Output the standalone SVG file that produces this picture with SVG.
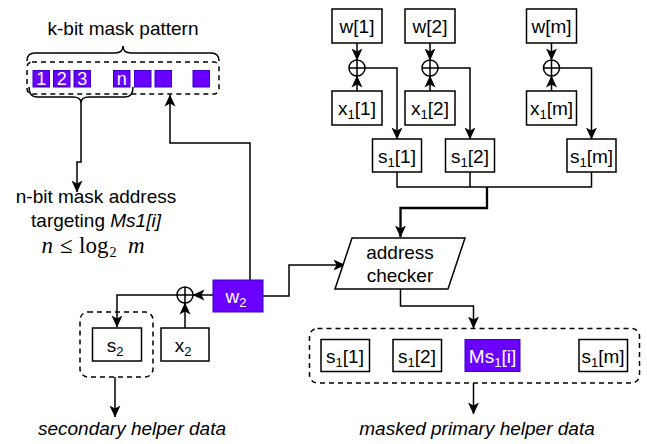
<svg xmlns="http://www.w3.org/2000/svg" width="647" height="444" viewBox="0 0 647 444">
<defs>
<marker id="arr" markerUnits="userSpaceOnUse" markerWidth="12" markerHeight="12" viewBox="0 0 12 12" refX="11.5" refY="6" orient="auto">
<path d="M0,0.5 L12,6 L0,11.5 L3,6 Z" fill="#000"/>
</marker>
</defs>
<style>
.box{fill:#fff;stroke:#000;stroke-width:1.5}
.pbox{fill:#6a00ff;stroke:#3700cc;stroke-width:1}
.t{font-family:"Liberation Sans",Arial,sans-serif;font-size:19px;fill:#000;text-anchor:middle}
.wt{fill:#fff}
.it{font-style:italic}
.sub{font-size:13px}
.ln{fill:none;stroke:#000;stroke-width:1.5}
.thick{fill:none;stroke:#000;stroke-width:2.3}
.dash{fill:none;stroke:#000;stroke-width:1.5;stroke-dasharray:5 4}
.xor{fill:#fff;stroke:#000;stroke-width:1.5}
.m{font-family:"Liberation Serif","Times New Roman",serif;font-size:23px;fill:#000}
</style>

<g id="connectors">
  <path class="ln" d="M357,43 V60" marker-end="url(#arr)"/>
  <path class="ln" d="M357,91 V76" marker-end="url(#arr)"/>
  <path class="ln" d="M365,68 H397 V139" marker-end="url(#arr)"/>
  <path class="ln" d="M430,43 V60" marker-end="url(#arr)"/>
  <path class="ln" d="M430,91 V76" marker-end="url(#arr)"/>
  <path class="ln" d="M438,68 H470 V139" marker-end="url(#arr)"/>
  <path class="ln" d="M551.5,43 V60" marker-end="url(#arr)"/>
  <path class="ln" d="M551.5,91 V76" marker-end="url(#arr)"/>
  <path class="ln" d="M559.5,68 H591.5 V139" marker-end="url(#arr)"/>
  <path class="ln" d="M397,172 V187 H591.5 V172 M470,172 V187"/>
  <path class="thick" d="M487,187 V208 H400.5 V237" marker-end="url(#arr)"/>
  <path class="ln" d="M400.5,289 V306 H473.5 V328" marker-end="url(#arr)"/>
  <path class="ln" d="M473.5,383 V414" marker-end="url(#arr)"/>
  <path class="ln" d="M263,296 H289 V265 H345" marker-end="url(#arr)"/>
  <path class="ln" d="M213,295 H193" marker-end="url(#arr)"/>
  <path class="ln" d="M185,328 V303" marker-end="url(#arr)"/>
  <path class="ln" d="M177,295 H117 V327" marker-end="url(#arr)"/>
  <path class="ln" d="M115,377 V417" marker-end="url(#arr)"/>
  <path class="ln" d="M250,280 V143 H170 V95" marker-end="url(#arr)"/>
  <path class="ln" d="M27,61 Q27,53 35,53 L115,53 Q123,53 123,46 Q123,53 131,53 L211,53 Q219,53 219,61"/>
  <path class="ln" d="M29,87 Q29,97 37,97 L73,97 Q81,97 81,103 Q81,97 89,97 L125,97 Q133,97 133,87"/>
  <path class="ln" d="M81,103 V162 H77 V192" marker-end="url(#arr)"/>
</g>

<g id="mask-pattern">
  <text class="t" x="123" y="35">k-bit mask pattern</text>
  <rect class="dash" x="27" y="62" width="192" height="32" rx="5"/>
  <rect class="pbox" x="33" y="70.5" width="16.5" height="16.5"/>
  <rect class="pbox" x="53.5" y="70.5" width="16.5" height="16.5"/>
  <rect class="pbox" x="74" y="70.5" width="16.5" height="16.5"/>
  <rect class="pbox" x="113.5" y="70.5" width="16.5" height="16.5"/>
  <rect class="pbox" x="134.5" y="70.5" width="16.5" height="16.5"/>
  <rect class="pbox" x="155" y="70.5" width="16.5" height="16.5"/>
  <rect class="pbox" x="193" y="70.5" width="16.5" height="16.5"/>
  <text class="t wt" x="41.2" y="85" style="font-size:18px">1</text>
  <text class="t wt" x="61.7" y="85" style="font-size:18px">2</text>
  <text class="t wt" x="82.2" y="85" style="font-size:18px">3</text>
  <text class="t wt" x="121.7" y="85" style="font-size:18px">n</text>
</g>

<g id="mask-address">
  <text class="t" x="96" y="203">n-bit mask address</text>
  <text class="t" x="96" y="227">targeting <tspan class="it">Ms1[i]</tspan></text>
  <text class="m" x="41.5" y="253" font-style="italic">n</text>
  <text class="m" x="60" y="253">≤</text>
  <text class="m" x="79" y="253">log</text>
  <text class="m" x="109.5" y="257" style="font-size:14px">2</text>
  <text class="m" x="128" y="253" font-style="italic">m</text>
</g>

<g id="w1"><rect class="box" x="332" y="9" width="50" height="34"/><text class="t" x="357" y="33">w[1]</text></g>
<g id="w2top"><rect class="box" x="405" y="9" width="50" height="34"/><text class="t" x="430" y="33">w[2]</text></g>
<g id="wm"><rect class="box" x="526.5" y="9" width="50" height="34"/><text class="t" x="551.5" y="33">w[m]</text></g>

<g id="xor1"><circle class="xor" cx="357" cy="68" r="8"/><path class="ln" d="M349,68 H365 M357,60 V76"/></g>
<g id="xor2"><circle class="xor" cx="430" cy="68" r="8"/><path class="ln" d="M422,68 H438 M430,60 V76"/></g>
<g id="xorm"><circle class="xor" cx="551.5" cy="68" r="8"/><path class="ln" d="M543.5,68 H559.5 M551.5,60 V76"/></g>

<g id="x1-1"><rect class="box" x="332" y="91" width="50" height="34"/><text class="t" x="357" y="115">x<tspan class="sub" dy="4">1</tspan><tspan dy="-4">[1]</tspan></text></g>
<g id="x1-2"><rect class="box" x="405" y="91" width="50" height="34"/><text class="t" x="430" y="115">x<tspan class="sub" dy="4">1</tspan><tspan dy="-4">[2]</tspan></text></g>
<g id="x1-m"><rect class="box" x="526.5" y="91" width="50" height="34"/><text class="t" x="551.5" y="115">x<tspan class="sub" dy="4">1</tspan><tspan dy="-4">[m]</tspan></text></g>

<g id="s1-1"><rect class="box" x="372.5" y="139" width="49" height="33"/><text class="t" x="397" y="163">s<tspan class="sub" dy="4">1</tspan><tspan dy="-4">[1]</tspan></text></g>
<g id="s1-2"><rect class="box" x="445.5" y="139" width="49" height="33"/><text class="t" x="470" y="163">s<tspan class="sub" dy="4">1</tspan><tspan dy="-4">[2]</tspan></text></g>
<g id="s1-m"><rect class="box" x="567" y="139" width="49" height="33"/><text class="t" x="591.5" y="163">s<tspan class="sub" dy="4">1</tspan><tspan dy="-4">[m]</tspan></text></g>

<g id="address-checker">
  <polygon class="box" points="352,238 465,238 448,289 335,289"/>
  <text class="t" x="400" y="259">address</text>
  <text class="t" x="400" y="282">checker</text>
</g>

<g id="w2">
  <rect class="pbox" x="213" y="280" width="50" height="32"/>
  <text class="t wt" x="236" y="303">w<tspan class="sub" dy="4">2</tspan></text>
</g>
<g id="xor-w2"><circle class="xor" cx="185" cy="295" r="8"/><path class="ln" d="M177,295 H193 M185,287 V303"/></g>
<g id="x2"><rect class="box" x="161" y="328" width="48" height="33"/><text class="t" x="183" y="352">x<tspan class="sub" dy="4">2</tspan></text></g>
<g id="s2-group">
  <rect class="dash" x="80" y="312" width="73" height="65" rx="8"/>
  <rect class="box" x="92.5" y="328" width="49" height="33"/>
  <text class="t" x="115" y="352">s<tspan class="sub" dy="4">2</tspan></text>
</g>
<g id="secondary-label"><text class="t it" x="132" y="435">secondary helper data</text></g>

<g id="masked-group">
  <rect class="dash" x="309.5" y="328.5" width="330" height="54.5" rx="8"/>
  <rect class="box" x="321" y="339.5" width="48.5" height="32"/>
  <text class="t" x="345" y="363">s<tspan class="sub" dy="4">1</tspan><tspan dy="-4">[1]</tspan></text>
  <rect class="box" x="393" y="339.5" width="48.5" height="32"/>
  <text class="t" x="417" y="363">s<tspan class="sub" dy="4">1</tspan><tspan dy="-4">[2]</tspan></text>
  <rect class="pbox" x="465" y="339.5" width="55" height="32"/>
  <text class="t wt" x="492.5" y="363">Ms<tspan class="sub" dy="4">1</tspan><tspan dy="-4">[i]</tspan></text>
  <rect class="box" x="579" y="339.5" width="48.5" height="32"/>
  <text class="t" x="603" y="363">s<tspan class="sub" dy="4">1</tspan><tspan dy="-4">[m]</tspan></text>
</g>
<g id="masked-label"><text class="t it" x="477" y="435">masked primary helper data</text></g>
</svg>
